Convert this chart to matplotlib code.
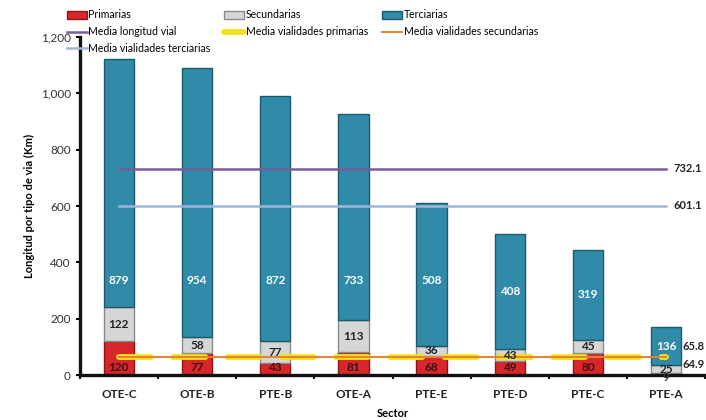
import numpy as np
import matplotlib.pyplot as plt
from matplotlib.ticker import FuncFormatter, MultipleLocator, FixedLocator

plt.rcParams['font.family'] = ['Lato', 'DejaVu Sans']

sectores = ['OTE-C', 'OTE-B', 'PTE-B', 'OTE-A', 'PTE-E', 'PTE-D', 'PTE-C', 'PTE-A']
primarias = [120, 77, 43, 81, 68, 49, 80, 9]
secundarias = [122, 58, 77, 113, 36, 43, 45, 25]
terciarias = [879, 954, 872, 733, 508, 408, 319, 136]

media_longitud = 732.1
media_primarias = 65.8
media_secundarias = 64.9
media_terciarias = 601.1

col_prim = '#d8262b'
col_sec = '#d6d6d6'
col_ter = '#2f8ba8'


def main():
    fig = plt.figure(figsize=(7.06, 4.2), dpi=100)
    ax = fig.add_axes([0.113, 0.107, 0.886, 0.805])

    x = np.arange(len(sectores))
    prim = np.array(primarias)
    sec = np.array(secundarias)
    ter = np.array(terciarias)
    w = 0.39

    b1 = ax.bar(x, prim, w, color=col_prim, edgecolor='#8c1515', linewidth=1.0, zorder=2, label='Primarias')
    b2 = ax.bar(x, sec, w, bottom=prim, color=col_sec, edgecolor='#8a8a8a', linewidth=1.0, zorder=2,
                label='Secundarias')
    b3 = ax.bar(x, ter, w, bottom=prim + sec, color=col_ter, edgecolor='#1d5a6e', linewidth=1.0, zorder=2,
                label='Terciarias')

    # lineas de medias, de la primera a la ultima barra
    xl = [x[0], x[-1]]
    l1, = ax.plot(xl, [media_longitud] * 2, color='#7a5c9c', lw=1.8, zorder=3, label='Media longitud vial')
    l2, = ax.plot(xl, [media_primarias] * 2, color='#f2e21a', lw=4.2, zorder=3,
                  linestyle=(0, (5.5, 3.8)), dash_capstyle='round', label='Media vialidades primarias')
    l3, = ax.plot(xl, [media_secundarias] * 2, color='#e8812f', lw=1.4, zorder=4,
                  label='Media vialidades secundarias')
    l4, = ax.plot(xl, [media_terciarias] * 2, color='#9fb6da', lw=1.8, zorder=3,
                  label='Media vialidades terciarias')

    # etiquetas de valores
    for i in range(len(x)):
        if prim[i] >= 30:
            ax.annotate(str(prim[i]), (x[i], 0), xytext=(0, 1.5), textcoords='offset points',
                        ha='center', va='bottom', fontsize=8.5, fontweight='bold', color='#3a1010', zorder=5)
        else:
            ax.annotate(str(prim[i]), (x[i], 0), xytext=(0, -2), textcoords='offset points',
                        ha='center', va='center', fontsize=8.5, fontweight='bold', color='#333333', zorder=5)
        ax.text(x[i], prim[i] + sec[i] / 2, str(sec[i]), ha='center', va='center', fontsize=8.5,
                fontweight='bold', color='#222222', zorder=5)
        yt = min(prim[i] + sec[i] + ter[i] / 2, 335)
        ax.text(x[i], yt, str(ter[i]), ha='center', va='center', fontsize=8.5,
                fontweight='bold', color='white', zorder=5)

    # valores de las medias a la derecha
    ax.annotate(f'{media_longitud:.1f}', (x[-1], media_longitud), xytext=(5, 0), textcoords='offset points',
                ha='left', va='center', fontsize=8, fontweight='bold', color='#222222')
    ax.annotate(f'{media_terciarias:.1f}', (x[-1], media_terciarias), xytext=(5, 0), textcoords='offset points',
                ha='left', va='center', fontsize=8, fontweight='bold', color='#222222')
    ax.annotate(f'{media_primarias:.1f}', (x[-1], media_primarias), xytext=(12, 7.5), textcoords='offset points',
                ha='left', va='center', fontsize=8, fontweight='bold', color='#222222', annotation_clip=False)
    ax.annotate(f'{media_secundarias:.1f}', (x[-1], media_secundarias), xytext=(12, -5.5),
                textcoords='offset points', ha='left', va='center', fontsize=8, fontweight='bold',
                color='#222222', annotation_clip=False)

    ax.set_xlim(-0.5, len(x) - 0.5)
    ax.set_ylim(0, 1200)
    ax.yaxis.set_major_locator(MultipleLocator(200))
    ax.yaxis.set_major_formatter(FuncFormatter(lambda v, p: f'{int(v):,}'))
    ax.set_xticks(x)
    ax.set_xticklabels(sectores, fontsize=8.5, fontweight='bold', color='#222222')
    ax.xaxis.set_minor_locator(FixedLocator(np.arange(len(x) + 1) - 0.5))
    ax.tick_params(axis='x', which='major', length=0, pad=10)
    ax.tick_params(axis='x', which='minor', length=3, width=1.5, direction='out', color='#111111')
    ax.tick_params(axis='y', length=3, width=1.5, direction='out', labelsize=8.5, labelcolor='#333333')

    for s in ['top', 'right']:
        ax.spines[s].set_visible(False)
    for s in ['left', 'bottom']:
        ax.spines[s].set_linewidth(2.4)
        ax.spines[s].set_color('#111111')

    ax.set_xlabel('Sector', fontsize=8, fontweight='bold', labelpad=6)
    ax.set_ylabel('Longitud por tipo de via (Km)', fontsize=8, fontweight='bold', labelpad=4)

    handles = [b1, l1, l4, b2, l2, b3, l3]
    fig.legend(handles=handles, labels=[h.get_label() for h in handles], ncol=3, loc='upper left',
               bbox_to_anchor=(0.081, 1.0), frameon=False, fontsize=7.6, handlelength=1.9,
               handletextpad=0.15, columnspacing=1.3, labelspacing=0.55, borderpad=0.4)

    fig.savefig('out.png', dpi=100)


if __name__ == '__main__':
    main()
